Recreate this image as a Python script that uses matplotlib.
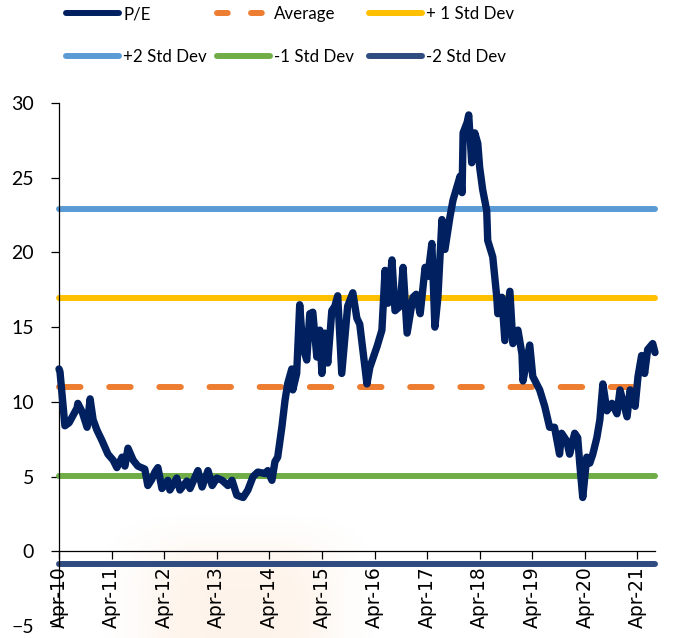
import numpy as np
import pandas as pd
import matplotlib
matplotlib.use("Agg")
import matplotlib.pyplot as plt
import matplotlib.dates as mdates
from matplotlib.lines import Line2D

# ---- data -------------------------------------------------------------
dates = [
    "2010-04-01", "2010-04-08", "2010-05-12", "2010-06-10", "2010-08-05", "2010-08-10",
    "2010-09-10", "2010-10-13", "2010-11-03", "2010-11-24", "2010-12-21", "2011-01-25",
    "2011-03-07", "2011-04-12", "2011-05-08", "2011-06-13", "2011-07-03", "2011-07-24",
    "2011-08-29", "2011-10-01", "2011-11-18", "2011-12-09", "2012-01-05", "2012-01-27",
    "2012-02-17", "2012-03-16", "2012-04-26", "2012-05-10", "2012-06-27", "2012-07-19",
    "2012-09-05", "2012-09-27", "2012-11-21", "2012-12-20", "2013-01-30", "2013-02-28",
    "2013-04-01", "2013-05-08", "2013-06-17", "2013-07-16", "2013-08-18", "2013-10-01",
    "2013-11-03", "2013-12-09", "2014-01-11", "2014-03-03", "2014-03-21", "2014-04-19",
    "2014-05-10", "2014-05-29", "2014-06-27", "2014-07-19", "2014-08-06", "2014-09-04",
    "2014-09-11", "2014-10-08", "2014-10-29", "2014-11-19", "2014-12-17", "2015-01-07",
    "2015-01-28", "2015-02-25", "2015-03-18", "2015-04-01", "2015-04-22", "2015-05-12",
    "2015-06-09", "2015-06-30", "2015-07-20", "2015-08-17", "2015-09-08", "2015-09-27",
    "2015-11-02", "2015-11-30", "2015-12-20", "2016-02-08", "2016-02-28", "2016-04-18",
    "2016-05-22", "2016-06-13", "2016-07-03", "2016-07-31", "2016-08-21", "2016-09-25",
    "2016-10-16", "2016-11-13", "2016-12-24", "2017-01-15", "2017-02-12", "2017-03-18",
    "2017-04-06", "2017-05-04", "2017-05-25", "2017-06-15", "2017-07-13", "2017-08-03",
    "2017-09-07", "2017-09-28", "2017-10-26", "2017-11-16", "2017-11-30", "2017-12-07",
    "2018-01-04", "2018-01-15", "2018-02-05", "2018-02-26", "2018-03-19", "2018-04-01",
    "2018-04-22", "2018-05-20", "2018-05-27", "2018-07-01", "2018-07-29", "2018-08-05",
    "2018-09-02", "2018-09-23", "2018-10-28", "2018-11-18", "2018-12-23", "2019-01-20",
    "2019-01-27", "2019-03-15", "2019-04-05", "2019-05-23", "2019-06-27", "2019-07-31",
    "2019-09-03", "2019-10-08", "2019-10-22", "2019-11-26", "2019-12-17", "2020-01-21",
    "2020-02-11", "2020-02-25", "2020-03-17", "2020-04-14", "2020-05-05", "2020-05-26",
    "2020-06-23", "2020-07-14", "2020-08-04", "2020-09-01", "2020-10-06", "2020-11-10",
    "2020-12-01", "2021-01-19", "2021-02-09", "2021-03-16", "2021-04-05", "2021-04-30",
    "2021-05-21", "2021-06-11", "2021-07-16", "2021-08-01",
]
pe = [
    12.2, 12.0, 8.4, 8.6, 9.6, 9.9,
    9.3, 8.3, 10.2, 8.8, 8.1, 7.4,
    6.5, 6.1, 5.6, 6.3, 5.7, 6.9,
    6.1, 5.7, 5.5, 4.4, 4.8, 5.3,
    5.6, 4.2, 4.75, 4.1, 4.9, 4.1,
    4.7, 4.2, 5.4, 4.3, 5.4, 4.4,
    4.9, 4.75, 4.4, 4.75, 3.75, 3.6,
    4.1, 5.0, 5.3, 5.2, 5.4, 4.75,
    6.0, 6.3, 8.3, 10.1, 11.2, 12.2,
    10.8, 11.9, 16.5, 13.7, 12.8, 15.9,
    16.0, 13.0, 14.8, 11.9, 14.6, 12.6,
    16.1, 16.4, 17.1, 11.9, 14.3, 16.4,
    17.3, 15.6, 15.2, 11.2, 12.3, 13.7,
    14.8, 18.8, 16.6, 19.5, 16.1, 16.4,
    19.0, 14.6, 17.0, 17.2, 15.9, 19.0,
    18.4, 20.6, 15.0, 17.0, 22.2, 20.2,
    22.4, 23.5, 24.4, 25.1, 24.0, 28.0,
    28.7, 29.2, 26.0, 28.0, 27.3, 25.7,
    24.2, 22.8, 20.8, 19.7, 17.0, 15.9,
    17.0, 14.1, 17.4, 13.9, 14.8, 13.2,
    11.4, 13.8, 11.7, 10.8, 9.7, 8.3,
    8.3, 6.5, 7.9, 7.4, 6.5, 7.9,
    7.6, 5.9, 3.6, 6.3, 5.9, 6.5,
    7.6, 8.8, 11.2, 9.4, 9.9, 9.2,
    10.8, 9.0, 10.8, 9.7, 11.7, 13.1,
    11.9, 13.5, 13.9, 13.3,
]

band_labels = ["Average", "+ 1 Std Dev", "+2 Std Dev", "-1 Std Dev", "-2 Std Dev"]
band_levels = [11.0, 16.95, 22.9, 5.05, -0.85]

x_start, x_end = "2010-04-01", "2021-08-01"

# ---- styles -----------------------------------------------------------
PE_COLOR = "#002060"
band_colors = {
    "Average": "#ED7D31",
    "+ 1 Std Dev": "#FFC000",
    "+2 Std Dev": "#5B9BD5",
    "-1 Std Dev": "#70AD47",
    "-2 Std Dev": "#2F4B7F",
}
LW = 4.3
TEXT_FONT = "Lato"

fig = plt.figure(figsize=(6.87, 6.38), dpi=100)

# soft logo tint behind the plot
bg = fig.add_axes([0, 0, 1, 1], zorder=-5)
bg.set_axis_off()
H, W = 638, 687
yy, xx = np.mgrid[0:H, 0:W]
mask = np.exp(-(((xx - 238) / 100.0) ** 4 + ((yy - 615) / 75.0) ** 4))
rgba = np.zeros((H, W, 4))
rgba[..., 0] = 247 / 255
rgba[..., 1] = 160 / 255
rgba[..., 2] = 80 / 255
rgba[..., 3] = 0.12 * mask
bg.imshow(rgba, extent=(0, 1, 0, 1), aspect="auto", interpolation="bilinear")
bg.set_xlim(0, 1)
bg.set_ylim(0, 1)

ax = fig.add_axes([59 / 687, 12 / 638, 596 / 687, 523 / 638])
ax.patch.set_alpha(0)

x = pd.to_datetime(dates)
xs = pd.to_datetime([x_start, x_end])

handles = {}
for lab, lev in zip(band_labels, band_levels):
    kw = dict(color=band_colors[lab], lw=LW, solid_capstyle="round",
              dash_capstyle="round", clip_on=False, zorder=2)
    if lab == "Average":
        kw["linestyle"] = (0, (3.6, 4.8))
    (ln,) = ax.plot(xs, [lev, lev], **kw)
    handles[lab] = ln

(pe_line,) = ax.plot(x, pe, color=PE_COLOR, lw=5.3, solid_joinstyle="round",
                     solid_capstyle="round", zorder=3, clip_on=False)
handles["P/E"] = pe_line

ax.set_xlim(xs[0], xs[1])
ax.set_ylim(-5, 30)
ax.set_yticks(range(-5, 31, 5))

ax.spines["top"].set_visible(False)
ax.spines["right"].set_visible(False)
ax.spines["bottom"].set_position(("data", 0))
ax.spines["left"].set_linewidth(0.9)
ax.spines["bottom"].set_linewidth(0.9)

ax.xaxis.set_major_locator(mdates.MonthLocator(bymonth=4, bymonthday=1))
ax.xaxis.set_major_formatter(mdates.DateFormatter("%b-%y"))
ax.tick_params(axis="x", direction="out", length=6, width=0.9, pad=5,
               labelsize=13.5, labelrotation=90)
ax.tick_params(axis="y", direction="out", length=6, width=0.9, pad=12, labelsize=14)
for t in ax.get_xticklabels():
    t.set_fontfamily("DejaVu Sans")
    t.set_verticalalignment("top")
for t in ax.get_yticklabels():
    t.set_fontfamily("Lato")

# legend: three columns of two entries each, placed side by side
columns = [["P/E", "+2 Std Dev"], ["Average", "-1 Std Dev"], ["+ 1 Std Dev", "-2 Std Dev"]]
col_x = [66, 217, 369]
for names, x0 in zip(columns, col_x):
    hs = []
    for k in names:
        h = handles[k]
        ls = (0, (1.8, 3.9)) if k == "Average" else "-"
        hs.append(Line2D([], [], color=h.get_color(), lw=LW, linestyle=ls,
                         solid_capstyle="round", dash_capstyle="round"))
    fig.legend(hs, names, loc="upper left", bbox_to_anchor=(x0 / 687, 1 - 6 / 638),
               ncol=1, frameon=False, prop={"family": TEXT_FONT, "size": 12.2},
               handlelength=3.15, handletextpad=0.24, labelspacing=1.6,
               borderpad=0, borderaxespad=0)

fig.savefig("out.png", dpi=100)
